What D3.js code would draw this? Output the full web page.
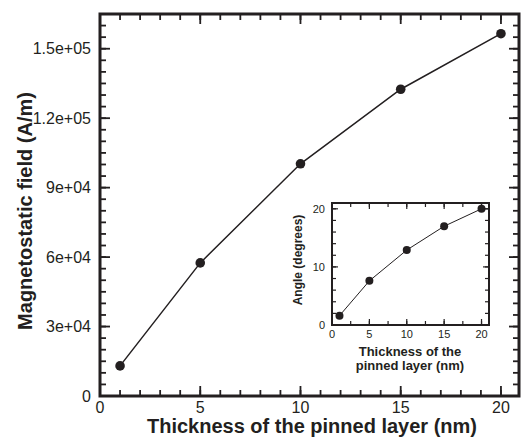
<!DOCTYPE html>
<html>
<head>
<meta charset="utf-8">
<script src="https://cdn.jsdelivr.net/npm/d3@7"></script>
<style>
  body { margin: 0; background: #fff; }
  text { font-family: "Liberation Sans", Arial, sans-serif; fill: #231f20; }
</style>
</head>
<body>
<script>
// main chart data
var thickness = [1, 5, 10, 15, 20];
var field = [13000, 57500, 100300, 132500, 156500];
var xTicks = [0, 5, 10, 15, 20];
var yTicks = [0, 30000, 60000, 90000, 120000, 150000];
var yTickLabels = ['0', '3e+04', '6e+04', '9e+04', '1.2e+05', '1.5e+05'];

// inset data
var angle = [1.6, 7.6, 12.9, 17.0, 20.0];
var insetXTicks = [0, 5, 10, 15, 20];
var insetYTicks = [0, 10, 20];

var w = 521, h = 440;
var svg = d3.select('body').append('svg').attr('width', w).attr('height', h);

// draws a framed panel with inward ticks on all four sides
function panel(g, x, y, o) {
  var x0 = x.range()[0], x1 = x.range()[1];
  var y0 = y.range()[0], y1 = y.range()[1];

  g.append('rect')
    .attr('x', x0).attr('y', y1)
    .attr('width', x1 - x0).attr('height', y0 - y1)
    .attr('fill', 'none').attr('stroke', '#231f20').attr('stroke-width', o.frameW);

  var minorX = d3.range(0, x.domain()[1] + 1e-9, o.xMinor);
  var minorY = d3.range(0, y.domain()[1] + 1e-9, o.yMinor);

  // tick marks as line elements, placed with the scales
  var xt = minorX.map(function(v) { return [v, o.minor]; })
    .concat(o.xTicks.map(function(v) { return [v, o.major]; }));
  var yt = minorY.map(function(v) { return [v, o.minor]; })
    .concat(o.yTicks.map(function(v) { return [v, o.major]; }));
  var tg = g.append('g').attr('stroke', '#231f20').attr('stroke-width', o.tickW);
  [y0, y1].forEach(function(edge) {
    var dir = edge === y0 ? -1 : 1;
    tg.selectAll(null).data(xt).enter().append('line')
      .attr('x1', function(d) { return x(d[0]); })
      .attr('x2', function(d) { return x(d[0]); })
      .attr('y1', edge)
      .attr('y2', function(d) { return edge + dir * d[1]; });
  });
  [x0, x1].forEach(function(edge) {
    var dir = edge === x0 ? 1 : -1;
    tg.selectAll(null).data(yt).enter().append('line')
      .attr('y1', function(d) { return y(d[0]); })
      .attr('y2', function(d) { return y(d[0]); })
      .attr('x1', edge)
      .attr('x2', function(d) { return edge + dir * d[1]; });
  });

  // tick labels
  g.selectAll('.xl').data(o.xTicks).enter().append('text')
    .attr('x', function(d) { return x(d); })
    .attr('y', y0 + o.xLabelDy)
    .attr('text-anchor', 'middle')
    .style('font-size', o.font + 'px')
    .text(function(d) { return d; });
  g.selectAll('.yl').data(o.yTicks).enter().append('text')
    .attr('x', x0 - o.yLabelDx)
    .attr('y', function(d) { return y(d) + o.font * 0.36; })
    .attr('text-anchor', 'end')
    .style('font-size', o.font + 'px')
    .text(function(d, i) { return o.yLabels ? o.yLabels[i] : d; });

  // series
  var pts = thickness.map(function(d, i) { return [d, o.values[i]]; });
  g.append('path').datum(pts)
    .attr('fill', 'none').attr('stroke', '#231f20').attr('stroke-width', o.lineW)
    .attr('d', d3.line().x(function(d) { return x(d[0]); }).y(function(d) { return y(d[1]); }));
  g.selectAll('circle').data(pts).enter().append('circle')
    .attr('cx', function(d) { return x(d[0]); })
    .attr('cy', function(d) { return y(d[1]); })
    .attr('r', o.r)
    .attr('fill', '#231f20');
}

// main panel
var x = d3.scaleLinear().domain([0, 20.9]).range([100, 519]);
var y = d3.scaleLinear().domain([0, 165000]).range([396, 14]);
var main = svg.append('g');
panel(main, x, y, {
  xTicks: xTicks, yTicks: yTicks, yLabels: yTickLabels,
  xMinor: 1, yMinor: 5000, major: 10, minor: 6,
  tickW: 1.8, frameW: 3, font: 16, xLabelDy: 17, yLabelDx: 9,
  values: field, lineW: 1.5, r: 4.8
});

main.append('text')
  .attr('x', 312).attr('y', 433)
  .attr('text-anchor', 'middle')
  .style('font-size', '20px').attr('font-weight', 'bold')
  .text('Thickness of the pinned layer (nm)');
main.append('text')
  .attr('transform', 'translate(32,211) rotate(-90)')
  .attr('text-anchor', 'middle')
  .style('font-size', '20px').attr('font-weight', 'bold')
  .text('Magnetostatic field (A/m)');

// inset panel
var xi = d3.scaleLinear().domain([0, 21]).range([332, 489]);
var yi = d3.scaleLinear().domain([0, 21]).range([325, 203]);
var inset = svg.append('g');
panel(inset, xi, yi, {
  xTicks: insetXTicks, yTicks: insetYTicks,
  xMinor: 2.5, yMinor: 2, major: 6, minor: 4,
  tickW: 1.2, frameW: 2, font: 11, xLabelDy: 13, yLabelDx: 7,
  values: angle, lineW: 1, r: 4
});

inset.append('text')
  .attr('x', 410).attr('y', 356)
  .attr('text-anchor', 'middle')
  .style('font-size', '13px').attr('font-weight', 'bold')
  .text('Thickness of the');
inset.append('text')
  .attr('x', 410).attr('y', 370)
  .attr('text-anchor', 'middle')
  .style('font-size', '13px').attr('font-weight', 'bold')
  .text('pinned layer (nm)');
inset.append('text')
  .attr('transform', 'translate(302,260) rotate(-90)')
  .attr('text-anchor', 'middle')
  .style('font-size', '12px').attr('font-weight', 'bold')
  .text('Angle (degrees)');
</script>
</body>
</html>
